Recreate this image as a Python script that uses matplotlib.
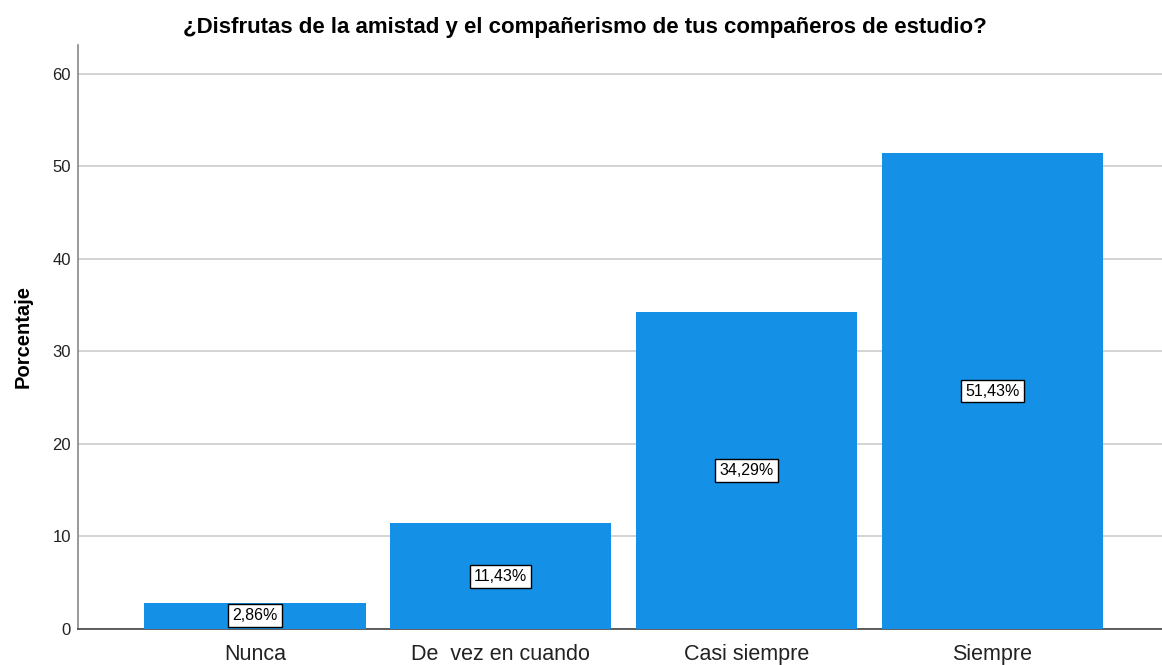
import matplotlib
matplotlib.use("Agg")
import matplotlib.pyplot as plt

categories = ["Nunca", "De  vez en cuando", "Casi siempre", "Siempre"]
values = [2.86, 11.43, 34.29, 51.43]
labels = ["2,86%", "11,43%", "34,29%", "51,43%"]
yticks = [0, 10, 20, 30, 40, 50, 60]

plt.rcParams['font.family'] = ['Liberation Sans', 'DejaVu Sans']

fig = plt.figure(figsize=(11.62, 6.65), dpi=100)
ax = fig.add_axes([78/1162, 36/665, 1 - 78/1162, (629-45)/665])

x = list(range(len(categories)))
ax.bar(x, values, width=0.9, color="#1490E6", zorder=3)
for xi, v, lab in zip(x, values, labels):
    ax.text(xi, v/2, lab, ha="center", va="center", fontsize=11.5, zorder=4,
            bbox=dict(boxstyle="square,pad=0.25", facecolor="white", edgecolor="black", linewidth=1))

ax.set_xlim(-0.72, 3.69)
ax.set_ylim(0, 63.1)
ax.set_yticks(yticks)
ax.set_yticklabels([str(t) for t in yticks], fontsize=12, color="#222222")
ax.set_xticks(x)
ax.set_xticklabels(categories, fontsize=15.5, color="#222222")
ax.tick_params(axis="x", length=0, pad=11)
ax.tick_params(axis="y", length=0, pad=5)
ax.yaxis.grid(True, color="#cccccc", linewidth=1.2, zorder=0)
ax.set_axisbelow(True)
for s in ["top", "right"]:
    ax.spines[s].set_visible(False)
ax.spines["left"].set_color("#888888")
ax.spines["left"].set_linewidth(1.2)
ax.spines["bottom"].set_color("#444444")
ax.spines["bottom"].set_linewidth(1.2)

ax.set_ylabel("Porcentaje", fontsize=14.5, fontweight="bold", labelpad=14)
fig.text(0.503, 1 - 28/665, "¿Disfrutas de la amistad y el compañerismo de tus compañeros de estudio?",
         ha="center", va="center", fontsize=16, fontweight="bold")

fig.savefig("out.png", dpi=100)
